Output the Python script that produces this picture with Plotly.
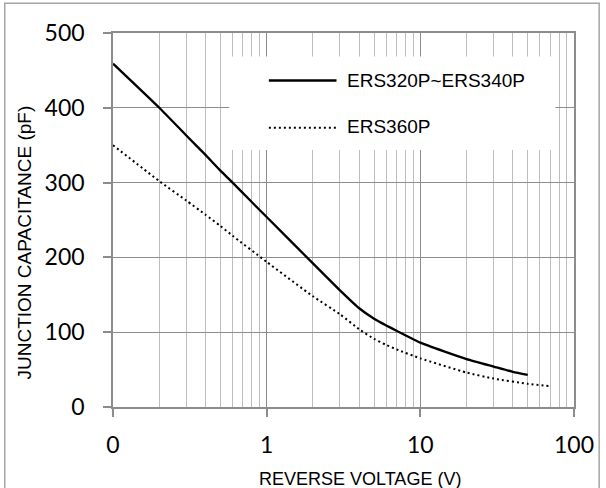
import plotly.graph_objects as go

# Data
series_names = ["ERS320P~ERS340P", "ERS360P"]
v_solid = [0.1, 0.2, 0.3, 0.4, 0.5, 0.6, 0.8, 1, 2, 3, 4, 5, 6, 7, 10, 20, 30, 40, 50]
c_solid = [459, 400, 363, 337, 316, 300, 274, 254, 192, 156, 132, 118, 109, 102, 86, 64, 54, 47, 43]
v_dot = [0.1, 0.2, 0.3, 0.4, 0.5, 0.6, 1, 2, 3, 4, 5, 6, 7, 10, 20, 30, 50, 70]
c_dot = [350, 302, 276, 257, 242, 229, 194, 148, 124, 104, 91, 83, 77, 65, 46, 38, 31, 28]

x_tickvals = [0.1, 1, 10, 100]
x_ticktext = ["0", "1", "10", "100"]
x_minor = [m * d for d in (0.1, 1, 10) for m in range(2, 10)]
y_tickvals = [0, 100, 200, 300, 400, 500]

MAJ = "#8c8c8c"
MIN = "#bdbdbd"
TXT = "Liberation Sans, Arial, sans-serif"
TICKF = "Lato, Noto Sans, sans-serif"

fig = go.Figure()
fig.add_trace(go.Scatter(x=v_solid, y=c_solid, mode="lines", name=series_names[0],
                         line=dict(color="black", width=2.3, shape="spline", smoothing=0.5),
                         showlegend=False))
fig.add_trace(go.Scatter(x=v_dot, y=c_dot, mode="lines", name=series_names[1],
                         line=dict(color="black", width=2, dash="2px,3px", shape="spline", smoothing=0.5),
                         showlegend=False))

fig.update_layout(
    width=606, height=488,
    margin=dict(l=113, r=29, t=33, b=81),
    paper_bgcolor="white", plot_bgcolor="white",
    showlegend=False,
)
fig.update_xaxes(
    type="log", range=[-1, 2],
    tickmode="array", tickvals=x_tickvals, ticktext=x_ticktext,
    tickfont=dict(family=TICKF, size=23, color="black"),
    ticks="outside", ticklen=8, tickcolor=MAJ, tickwidth=1.5,
    ticklabelstandoff=9,
    showgrid=True, gridcolor=MAJ, gridwidth=1.3,
    showline=True, linecolor=MAJ, linewidth=1.5, mirror=True,
    minor=dict(tickmode="array", tickvals=x_minor, showgrid=True,
               gridcolor=MIN, gridwidth=1.3, ticks=""),
    zeroline=False,
)
fig.update_yaxes(
    range=[0, 500], tickmode="array", tickvals=y_tickvals,
    tickfont=dict(family=TICKF, size=23, color="black"),
    ticks="outside", ticklen=8, tickcolor=MAJ, tickwidth=1.5,
    ticklabelstandoff=14,
    showgrid=True, gridcolor=MAJ, gridwidth=1.3,
    showline=True, linecolor=MAJ, linewidth=1.5, mirror=True,
    zeroline=False,
)

shapes = [
    # outer frame
    dict(type="rect", xref="paper", yref="paper", x0=-0.2348, x1=1.0546, y0=-0.25, y1=1.0798,
         line=dict(color="#a6a6a6", width=1.5), fillcolor="rgba(0,0,0,0)", layer="above"),
    # legend box (white, covers the gridlines)
    dict(type="rect", xref="paper", yref="paper", x0=0.2519, x1=0.9596, y0=0.6875, y1=0.9373,
         line=dict(width=0), fillcolor="white", layer="above"),
    dict(type="line", xref="paper", yref="paper", x0=0.3381, x1=0.4848, y0=0.873, y1=0.873,
         line=dict(color="black", width=2.3), layer="above"),
    dict(type="line", xref="paper", yref="paper", x0=0.3381, x1=0.4848, y0=0.7464, y1=0.7464,
         line=dict(color="black", width=2, dash="2px,3px"), layer="above"),
]
fig.update_layout(shapes=shapes)

annotations = [
    dict(text=series_names[0], xref="paper", yref="paper", x=0.5037, y=0.8723,
         xanchor="left", yanchor="middle", showarrow=False,
         font=dict(family=TXT, size=19, color="black")),
    dict(text=series_names[1], xref="paper", yref="paper", x=0.5037, y=0.7504,
         xanchor="left", yanchor="middle", showarrow=False,
         font=dict(family=TXT, size=19, color="black")),
    dict(text="REVERSE VOLTAGE (V)", xref="paper", yref="paper", x=0.5362, y=-0.1917,
         xanchor="center", yanchor="middle", showarrow=False,
         font=dict(family=TXT, size=18, color="black")),
    dict(text="JUNCTION CAPACITANCE (pF)", xref="paper", yref="paper", x=-0.193, y=0.44,
         xanchor="center", yanchor="middle", textangle=-90, showarrow=False,
         font=dict(family=TXT, size=19, color="black")),
]
fig.update_layout(annotations=annotations)

fig.write_html("out.html", config={"displayModeBar": False},
               post_script="document.body.style.margin='0';document.body.style.overflow='hidden';")
